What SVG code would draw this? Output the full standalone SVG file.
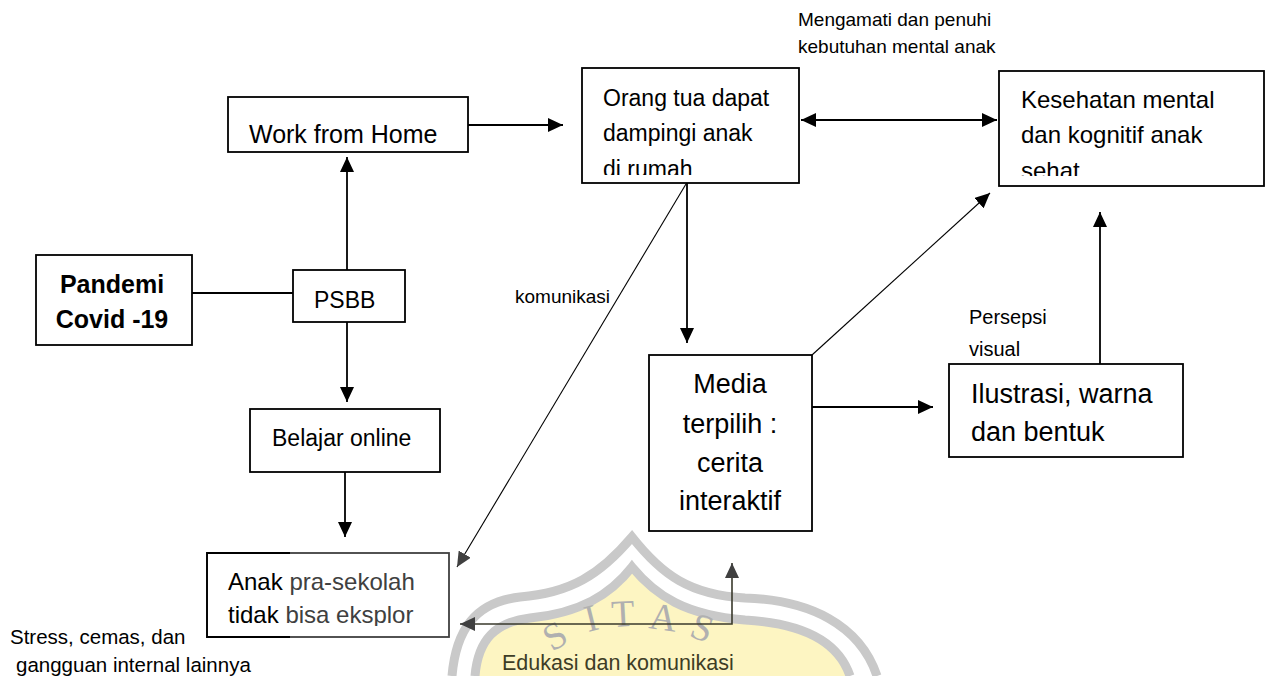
<svg xmlns="http://www.w3.org/2000/svg" width="1265" height="676" viewBox="0 0 1265 676">
<style>
  .box{fill:#fff;stroke:#000;stroke-width:1.8}
  .t{font-family:"Liberation Sans",Arial,sans-serif;fill:#000}
  .c{fill:none;stroke:#000;stroke-width:1.8}
  .thin{fill:none;stroke:#000;stroke-width:1.1}
  .wm{fill:none;stroke:#c9c9c9;stroke-width:9}
  .wmt{font-family:"Liberation Serif","Times New Roman",serif;font-size:38px;fill:#b0b0b0}
</style>
<defs>
  <marker id="ah" viewBox="0 0 15 14" refX="15" refY="7" markerWidth="15" markerHeight="14" markerUnits="userSpaceOnUse" orient="auto-start-reverse">
    <path d="M0,0 L15,7 L0,14 z" fill="#000"/>
  </marker>
  <marker id="ahg" viewBox="0 0 15 14" refX="15" refY="7" markerWidth="15" markerHeight="14" markerUnits="userSpaceOnUse" orient="auto-start-reverse">
    <path d="M0,0 L15,7 L0,14 z" fill="#404040"/>
  </marker>
  <clipPath id="clipOrang"><rect x="582" y="68" width="217" height="107"/></clipPath>
  <clipPath id="clipKes"><rect x="999" y="71" width="265" height="105"/></clipPath>
  <clipPath id="clipAnak"><rect x="207" y="553" width="242" height="73"/></clipPath>
</defs>

<!-- watermark -->
<g id="watermark">
  <path d="M475,676 C478,640 495,622 530,618 C580,613 610,595 632,567 C656,596 685,615 745,620 C800,623 838,640 850,676 Z" fill="#fdf5c2"/>
  <path class="wm" d="M452,676 C456,630 475,602 520,597 C570,593 600,575 632,537 C662,575 690,595 745,598 C810,600 860,625 877,676"/>
  <path class="wm" d="M475,676 C478,640 495,622 530,618 C580,613 610,595 632,567 C656,596 685,615 745,620 C800,623 838,640 850,676"/>
  <text class="wmt" transform="translate(552,652) rotate(-30)">S</text>
  <text class="wmt" transform="translate(588,632) rotate(-14)">I</text>
  <text class="wmt" transform="translate(612,627) rotate(-3)">T</text>
  <text class="wmt" transform="translate(648,628) rotate(8)">A</text>
  <text class="wmt" transform="translate(688,636) rotate(20)">S</text>
</g>

<g id="connectors">
  <line class="c" x1="192" y1="293" x2="293" y2="293"/>
  <line class="c" x1="347" y1="270" x2="347" y2="157" marker-end="url(#ah)"/>
  <line class="c" x1="347" y1="322" x2="347" y2="402" marker-end="url(#ah)"/>
  <line class="c" x1="345" y1="472" x2="345" y2="537" marker-end="url(#ah)"/>
  <line class="c" x1="468" y1="125" x2="563" y2="125" marker-end="url(#ah)"/>
  <line class="c" x1="801" y1="120" x2="997" y2="120" marker-start="url(#ah)" marker-end="url(#ah)"/>
  <line class="c" x1="687" y1="183" x2="687" y2="343" marker-end="url(#ah)"/>
  <line class="thin" x1="686" y1="184" x2="457" y2="567" marker-end="url(#ahg)"/>
  <line class="thin" x1="812" y1="355" x2="990" y2="193" marker-end="url(#ah)"/>
  <line class="c" x1="812" y1="407" x2="933" y2="407" marker-end="url(#ah)"/>
  <line class="c" x1="1100" y1="364" x2="1100" y2="212" marker-end="url(#ah)"/>
  <polyline points="460,624 732,624 732,563" fill="none" stroke="#3a3a2c" stroke-width="1.6" marker-start="url(#ahg)" marker-end="url(#ahg)"/>
</g>

<g id="labels">
  <text class="t" font-size="19" x="798" y="26">Mengamati dan penuhi</text>
  <text class="t" font-size="19" x="798" y="53">kebutuhan mental anak</text>
  <text class="t" font-size="19" x="515" y="303">komunikasi</text>
  <text class="t" font-size="20" x="969" y="324">Persepsi</text>
  <text class="t" font-size="20" x="969" y="356">visual</text>
  <text class="t" font-size="20.5" x="10" y="644">Stress, cemas, dan</text>
  <text class="t" font-size="20.5" x="16" y="672">gangguan internal lainnya</text>
  <text class="t" font-size="21.5" x="502" y="670" style="fill:#3d3d26">Edukasi dan komunikasi</text>
</g>

<g id="node-pandemi">
  <rect class="box" x="36" y="255" width="156" height="90"/>
  <text class="t" font-size="25" font-weight="bold" text-anchor="middle" x="112" y="293">Pandemi</text>
  <text class="t" font-size="25" font-weight="bold" text-anchor="middle" x="112" y="328">Covid -19</text>
</g>

<g id="node-psbb">
  <rect class="box" x="293" y="270" width="112" height="52"/>
  <text class="t" font-size="23" x="314" y="308">PSBB</text>
</g>

<g id="node-wfh">
  <rect class="box" x="228" y="97" width="240" height="55"/>
  <text class="t" font-size="25" x="249" y="143">Work from Home</text>
</g>

<g id="node-belajar">
  <rect class="box" x="250" y="409" width="190" height="63"/>
  <text class="t" font-size="23" x="272" y="446">Belajar online</text>
</g>

<g id="node-anak">
  <rect x="207" y="553" width="242" height="84" fill="#fff" stroke="#404040" stroke-width="1.8"/>
  <path d="M290,553 H207 V637 H290" fill="none" stroke="#000" stroke-width="1.8"/>
  <g clip-path="url(#clipAnak)">
    <text class="t" font-size="24" x="228" y="590">Anak <tspan fill="#404040">pra-sekolah</tspan></text>
    <text class="t" font-size="24" x="228" y="623">tidak <tspan fill="#404040">bisa eksplor</tspan></text>
  </g>
</g>

<g id="node-orangtua">
  <rect class="box" x="582" y="68" width="217" height="115"/>
  <g clip-path="url(#clipOrang)">
    <text class="t" font-size="23" x="603" y="106">Orang tua dapat</text>
    <text class="t" font-size="23" x="603" y="141">dampingi anak</text>
    <text class="t" font-size="23" x="603" y="177">di rumah</text>
  </g>
</g>

<g id="node-kesehatan">
  <rect class="box" x="999" y="71" width="265" height="115"/>
  <g clip-path="url(#clipKes)">
    <text class="t" font-size="24" x="1021" y="108">Kesehatan mental</text>
    <text class="t" font-size="24" x="1021" y="143">dan kognitif anak</text>
    <text class="t" font-size="24" x="1021" y="179">sehat</text>
  </g>
</g>

<g id="node-media">
  <rect class="box" x="649" y="355" width="163" height="176"/>
  <text class="t" font-size="27" text-anchor="middle" x="730" y="393">Media</text>
  <text class="t" font-size="27" text-anchor="middle" x="730" y="433">terpilih :</text>
  <text class="t" font-size="27" text-anchor="middle" x="730" y="472">cerita</text>
  <text class="t" font-size="27" text-anchor="middle" x="730" y="510">interaktif</text>
</g>

<g id="node-ilustrasi">
  <rect class="box" x="949" y="364" width="234" height="93"/>
  <text class="t" font-size="27" x="971" y="403">Ilustrasi, warna</text>
  <text class="t" font-size="27" x="971" y="441">dan bentuk</text>
</g>
</svg>
